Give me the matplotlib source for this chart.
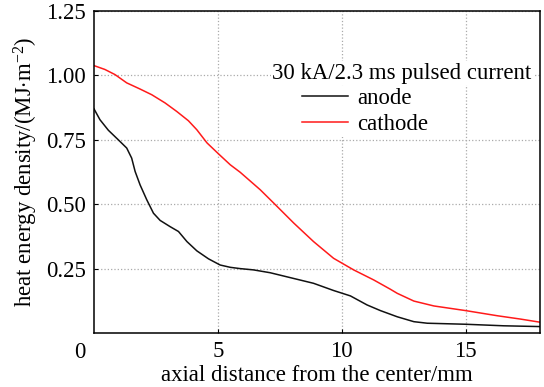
import matplotlib
matplotlib.use("Agg")
import matplotlib.pyplot as plt

plt.rcParams['font.family'] = ['Liberation Serif', 'DejaVu Serif']
plt.rcParams['mathtext.fontset'] = 'custom'
plt.rcParams['mathtext.rm'] = 'Liberation Serif'
plt.rcParams['mathtext.it'] = 'Liberation Serif:italic'

# data
cathode_x = [0.0, 0.44, 0.85, 1.32, 1.86, 2.33, 2.87, 3.34, 3.81, 4.15, 4.56, 5.03, 5.50,
             5.90, 6.71, 7.32, 8.06, 8.86, 9.67, 10.48, 11.29, 11.96, 12.24, 12.91, 13.72,
             15.00, 16.28, 17.22, 18.0]
cathode_y = [1.038, 1.023, 1.003, 0.971, 0.947, 0.925, 0.893, 0.860, 0.824, 0.789, 0.738, 0.695, 0.653,
             0.624, 0.556, 0.498, 0.427, 0.355, 0.290, 0.245, 0.206, 0.170, 0.154, 0.124, 0.105,
             0.087, 0.067, 0.054, 0.042]

anode_x = [0.0, 0.24, 0.58, 0.98, 1.32, 1.52, 1.66, 1.86, 2.13, 2.40, 2.67, 3.07, 3.41, 3.75,
           4.15, 4.62, 5.09, 5.50, 5.90, 6.44, 7.11, 7.92, 8.86, 9.67, 10.35, 11.02, 11.56,
           12.24, 12.91, 13.45, 15.00, 16.54, 18.0]
anode_y = [0.870, 0.828, 0.787, 0.750, 0.718, 0.679, 0.627, 0.575, 0.517, 0.465, 0.437, 0.413, 0.394, 0.355,
           0.319, 0.288, 0.264, 0.255, 0.250, 0.245, 0.234, 0.215, 0.193, 0.165, 0.144, 0.109, 0.087,
           0.063, 0.044, 0.038, 0.034, 0.028, 0.025]

x_ticks = [5, 10, 15]
y_ticks = [0.25, 0.50, 0.75, 1.00, 1.25]
y_tick_labels = ['0.25', '0.50', '0.75', '1.00', '1.25']

FS = 16.4

fig = plt.figure(figsize=(5.44, 3.87), dpi=100)
ax = fig.add_axes([0.1728, 0.1395, 0.8198, 0.8321])

ax.plot(anode_x, anode_y, color='#111111', lw=1.1, label='anode')
ax.plot(cathode_x, cathode_y, color='#ff1a1a', lw=1.1, label='cathode')

ax.set_xlim(0, 18)
ax.set_ylim(0, 1.25)
ax.set_xticks(x_ticks)
ax.set_yticks(y_ticks)
ax.set_yticklabels(y_tick_labels)
ax.tick_params(direction='in', labelsize=FS, length=3, width=0.8)
ax.tick_params(axis='x', pad=6)
ax.tick_params(axis='y', pad=6)
ax.grid(True, linestyle=':', color='#aaaaaa', lw=0.9)
for s in ax.spines.values():
    s.set_linewidth(1.1)

# the shared origin label
ax.annotate('0', xy=(0, 0), xycoords='data', xytext=(-14, -19),
            textcoords='offset pixels', ha='center', va='center', fontsize=FS)

ax.set_xlabel('axial distance from the center/mm', fontsize=FS, labelpad=2)
ax.set_ylabel('heat energy density/(MJ$\\cdot$m$^{-2}$)', fontsize=FS, labelpad=4)

# legend title as text, entries as a legend shifted right of it
ax.text(0.399, 0.807, '30 kA/2.3 ms pulsed current', transform=ax.transAxes,
        ha='left', va='center', fontsize=FS, zorder=5,
        bbox=dict(facecolor='white', edgecolor='none', pad=1))
leg = ax.legend(loc='upper left', bbox_to_anchor=(0.462, 0.768), fontsize=FS,
                frameon=True, fancybox=False, handlelength=2.0, handletextpad=0.4,
                labelspacing=0.2, borderpad=0.1, borderaxespad=0.0)
leg.get_frame().set_edgecolor('none')
leg.get_frame().set_facecolor('white')
leg.get_frame().set_alpha(1)

fig.savefig('out.png', dpi=100)
